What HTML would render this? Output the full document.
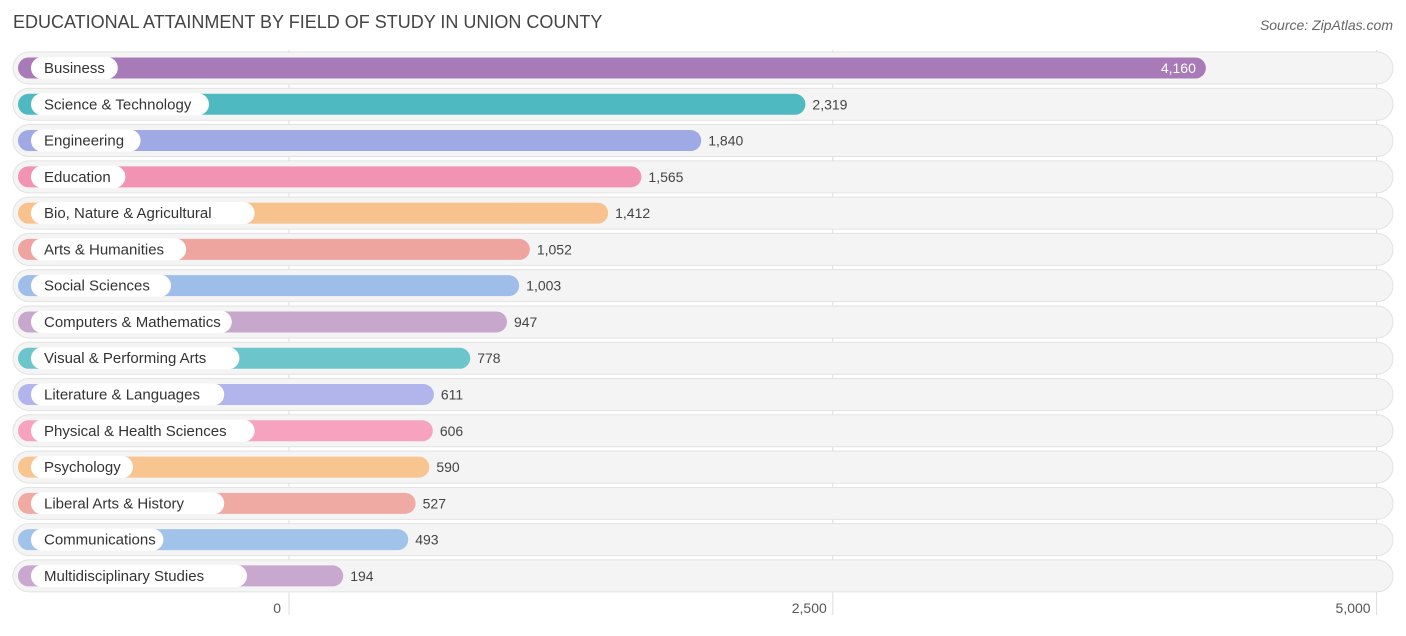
<!DOCTYPE html>
<html><head><meta charset="utf-8"><style>
body{margin:0;background:#fff;width:1406px;height:631px;overflow:hidden;font-family:"Liberation Sans",Arial,sans-serif}
</style></head><body>
<svg id="chart" width="1406" height="631" xmlns="http://www.w3.org/2000/svg" font-family="Liberation Sans, Arial, sans-serif">
<text x="13" y="28" font-size="18" fill="#444">EDUCATIONAL ATTAINMENT BY FIELD OF STUDY IN UNION COUNTY</text>
<text x="1393" y="30" font-size="14" fill="#666" font-style="italic" text-anchor="end">Source: ZipAtlas.com</text>
<g id="grid"></g><g id="rows"></g><g id="ticks"></g>
</svg>
<script>
const categories=["Business","Science & Technology","Engineering","Education","Bio, Nature & Agricultural","Arts & Humanities","Social Sciences","Computers & Mathematics","Visual & Performing Arts","Literature & Languages","Physical & Health Sciences","Psychology","Liberal Arts & History","Communications","Multidisciplinary Studies"];
const values=[4160,2319,1840,1565,1412,1052,1003,947,778,611,606,590,527,493,194];
const colors=["#a87bb8","#4fb9c1","#9fa9e3","#f393b3","#f8c28e","#eea5a0","#9ebde8","#c8a7cc","#6cc5cb","#b2b5ec","#f7a3bf","#f8c490","#f0aaa4","#a1c3ea","#c9a8cf"];
const tickVals=[0,2500,5000];
const tickLabels=["0","2,500","5,000"];
const NS="http://www.w3.org/2000/svg";
const x0=289, k=0.21752;
const xs=v=>x0+v*k;
const barEnd=v=>xs(v)+12;
const rowY=i=>68+i*36.28;
function mk(tag,attrs,parent){const e=document.createElementNS(NS,tag);for(const a in attrs)e.setAttribute(a,attrs[a]);parent.appendChild(e);return e;}
const grid=document.getElementById('grid'),rows=document.getElementById('rows'),ticks=document.getElementById('ticks');
tickVals.forEach((t,i)=>{
 const l=mk('line',{x1:xs(t),x2:xs(t),y1:50,y2:615,stroke:'#ddd','stroke-width':1},grid);
 
 
 const tx=mk('text',{x:xs(t)-10+ (i==0?0:0),y:613,'font-size':14,fill:'#555','text-anchor':i==0?'end':'end'},ticks);
 tx.setAttribute('x',i==0?xs(t)-8:xs(t)-6);
 
 
 tx.textContent=tickLabels[i];
});
categories.forEach((c,i)=>{
 const y=rowY(i);
 const g=mk('g',{},rows);
 
 
 const bg=mk('rect',{x:13,y:y-16,width:1380,height:32,rx:16,fill:'#f4f4f4',stroke:'#e2e2e2','stroke-width':1},g);
 
 
 const bar=mk('rect',{x:18,y:y-10.5,width:barEnd(values[i])-18,height:21,rx:10.5,fill:colors[i]},g);
 
 
 const tw=c.length*7.6+26;
 const pill=mk('rect',{x:31,y:y-11,width:tw,height:22,rx:11,fill:'#fff'},g);
 
 
 const lt=mk('text',{x:44,y:y+5,'font-size':15,fill:'#333'},g);
 
 
 lt.textContent=c;
 const inside=i==0;
 const vt=mk('text',{x:inside?barEnd(values[i])-10:barEnd(values[i])+7,y:y+5,'font-size':14,fill:inside?'#fff':'#444','text-anchor':inside?'end':'start'},g);
 
 
 vt.textContent=values[i].toLocaleString('en-US');
});
</script>
</body></html>
